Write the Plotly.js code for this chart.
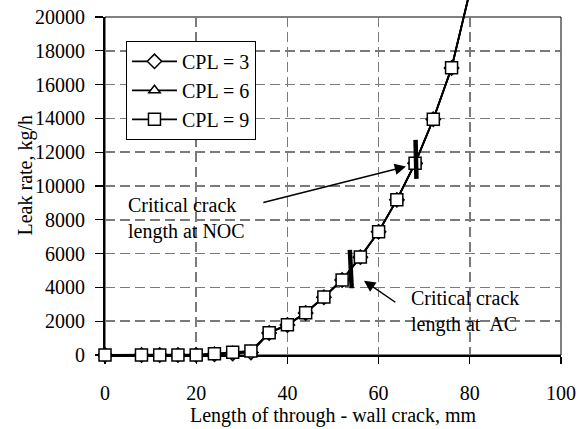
<!DOCTYPE html>
<html>
<head>
<meta charset="utf-8">
<script src="https://cdn.plot.ly/plotly-3.0.1.min.js"></script>
<style>html,body{margin:0;padding:0;background:#fff;}</style>
</head>
<body>
<div id="chart" style="width:588px;height:429px;"></div>
<script>
// ---- data ----
const crackLength = [0, 8, 12, 16, 20, 24, 28, 32, 36, 40, 44, 48, 52, 56, 60, 64, 68, 72, 76, 80];
const leakCPL3 = [0, 0, 0, 0, 0, 40, 90, 150, 1300, 1780, 2490, 3420, 4440, 5790, 7290, 9180, 11340, 13950, 16980, 21500];
const leakCPL6 = [0, 0, 0, 0, 0, 60, 120, 190, 1310, 1790, 2500, 3425, 4440, 5795, 7295, 9180, 11345, 13950, 16990, 21500];
const leakCPL9 = [0, 0, 0, 0, 0, 80, 160, 240, 1320, 1795, 2505, 3430, 4440, 5800, 7300, 9180, 11350, 13950, 17000, 21500];
const seriesNames = ['CPL = 3', 'CPL = 6', 'CPL = 9'];

const nocMarkX = [68.1, 68.3];
const nocMarkY = [12730, 10420];
const acMarkX = [53.7, 54.1];
const acMarkY = [6220, 3950];

const nocArrowTip = [66.0, 11150];
const nocArrowTail = [34.4, 9000];
const acArrowTip = [56.8, 4400];
const acArrowTail = [64.0, 3060];
const nocLabel = 'Critical crack<br>length at NOC';
const acLabel = 'Critical crack<br>length at\u00a0 AC';
const nocLabelPos = [4.6, 8050];
const acLabelPos = [66.7, 2600];

const xTicks = [0, 20, 40, 60, 80, 100];
const yTicks = [0, 2000, 4000, 6000, 8000, 10000, 12000, 14000, 16000, 18000, 20000];
const xRange = [0, 100];
const yRange = [0, 20000];

// ---- layout geometry ----
const W = 588, H = 429;
const M = {l: 105, r: 27, t: 0, b: 74};
const plotH = H - M.t - M.b;
const plotTopPx = 17;
const dTop = (plotH - plotTopPx) / plotH;

const FONT = 'Times New Roman, serif';
const font20 = {family: FONT, size: 20, color: '#000'};

const symbols = ['diamond', 'triangle-up', 'square'];
const sizes = [11, 10, 12];
const series = [leakCPL3, leakCPL6, leakCPL9];

const traces = [{
  x: [xRange[0]], y: [yRange[0]], xaxis: 'x', yaxis: 'y', type: 'scatter', mode: 'markers',
  marker: {opacity: 0}, showlegend: false, hoverinfo: 'skip'
}];
series.forEach((ys, i) => {
  traces.push({
    x: crackLength, y: ys, name: seriesNames[i],
    xaxis: 'x2', yaxis: 'y2', type: 'scatter', mode: 'lines+markers',
    cliponaxis: false, legendgroup: 'g' + i,
    line: {color: '#000', width: 1.8},
    marker: {symbol: symbols[i], size: sizes[i], color: '#fff', line: {color: '#000', width: 1.5}}
  });
});
traces.push({
  x: nocMarkX, y: nocMarkY, xaxis: 'x2', yaxis: 'y2', type: 'scatter', mode: 'lines',
  showlegend: false, hoverinfo: 'skip', line: {color: '#000', width: 4.5}
});
traces.push({
  x: acMarkX, y: acMarkY, xaxis: 'x2', yaxis: 'y2', type: 'scatter', mode: 'lines',
  showlegend: false, hoverinfo: 'skip', line: {color: '#000', width: 4.5}
});

const gridStyle = {gridcolor: '#7a7a7a', gridwidth: 1.5, griddash: '10px,5px'};

const layout = {
  width: W, height: H,
  margin: {l: M.l, r: M.r, t: M.t, b: M.b, pad: 0},
  paper_bgcolor: '#fff', plot_bgcolor: 'rgba(0,0,0,0)',
  font: font20,
  showlegend: true,
  legend: {
    x: 0.046, y: 0.885, xanchor: 'left', yanchor: 'top', traceorder: 'grouped',
    bgcolor: '#fff', bordercolor: '#000', borderwidth: 1,
    font: font20, tracegroupgap: 0, itemwidth: 45
  },
  xaxis: Object.assign({
    range: xRange, domain: [0, 1], anchor: 'y',
    tickvals: xTicks, ticktext: xTicks.map(String),
    showline: true, linecolor: '#000', linewidth: 2,
    ticks: 'outside', ticklen: 7, tickwidth: 1.3, tickcolor: '#000',
    ticklabelstandoff: 12,
    zeroline: false, showgrid: true,
    tickfont: font20, automargin: false,
    title: {text: 'Length of through - wall crack, mm', font: font20, standoff: 4}
  }, gridStyle),
  yaxis: Object.assign({
    range: yRange, domain: [0, dTop], anchor: 'x',
    tickvals: yTicks, ticktext: yTicks.map(String),
    showline: true, linecolor: '#000', linewidth: 2,
    ticks: 'outside', ticklen: 8, tickwidth: 1.3, tickcolor: '#000',
    ticklabelstandoff: 6,
    zeroline: false, showgrid: true,
    tickfont: font20, automargin: false
  }, gridStyle),
  xaxis2: {range: xRange, domain: [0, 1], anchor: 'y2', visible: false},
  yaxis2: {range: [yRange[0], yRange[1] / dTop], domain: [0, 1], anchor: 'x2', visible: false},
  shapes: [{
    type: 'rect', xref: 'paper', yref: 'paper', x0: 0, x1: 1, y0: 0, y1: dTop,
    line: {color: '#000', width: 1}, layer: 'below'
  }],
  annotations: [
    {
      text: 'Leak rate, kg/h', textangle: -90, showarrow: false,
      xref: 'paper', yref: 'paper', x: (24.5 - M.l) / (W - M.l - M.r), y: (plotH - 175) / plotH,
      xanchor: 'center', yanchor: 'middle', font: font20
    },
    {
      text: nocLabel, showarrow: false, xref: 'x', yref: 'y',
      x: nocLabelPos[0], y: nocLabelPos[1], xanchor: 'left', yanchor: 'middle', align: 'left', font: font20
    },
    {
      text: acLabel, showarrow: false, xref: 'x', yref: 'y',
      x: acLabelPos[0], y: acLabelPos[1], xanchor: 'left', yanchor: 'middle', align: 'left', font: font20
    },
    {
      text: '', showarrow: true, xref: 'x', yref: 'y', axref: 'x', ayref: 'y',
      x: nocArrowTip[0], y: nocArrowTip[1], ax: nocArrowTail[0], ay: nocArrowTail[1],
      arrowhead: 2, arrowsize: 1.5, arrowwidth: 1.5, arrowcolor: '#000', standoff: 0
    },
    {
      text: '', showarrow: true, xref: 'x', yref: 'y', axref: 'x', ayref: 'y',
      x: acArrowTip[0], y: acArrowTip[1], ax: acArrowTail[0], ay: acArrowTail[1],
      arrowhead: 2, arrowsize: 1.5, arrowwidth: 1.5, arrowcolor: '#000', standoff: 0
    }
  ]
};

Plotly.newPlot('chart', traces, layout, {displayModeBar: false, staticPlot: true});
</script>
</body>
</html>
